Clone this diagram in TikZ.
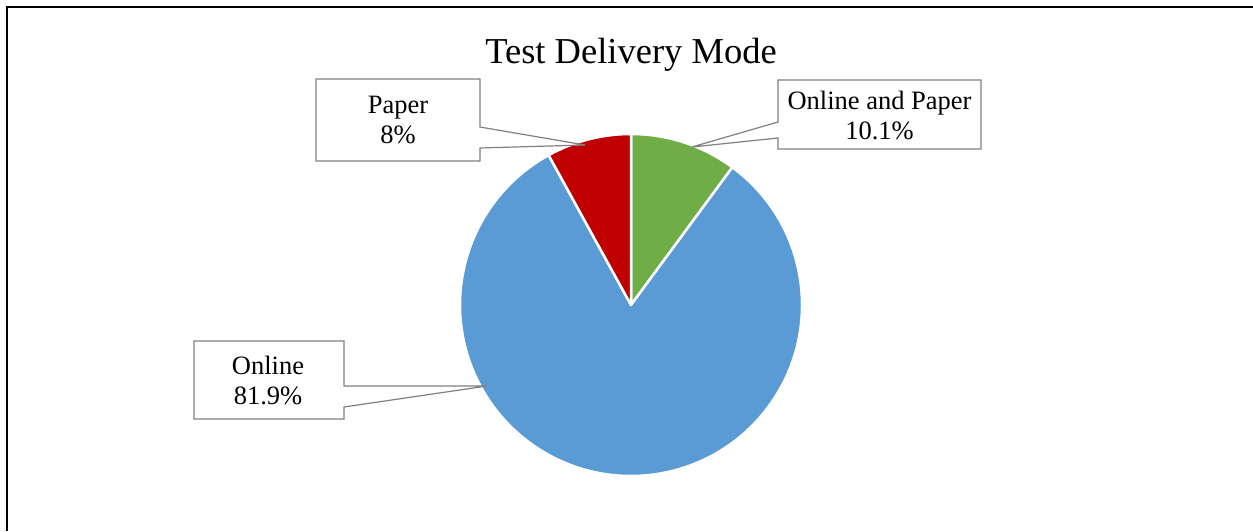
\documentclass[tikz,border=0pt]{standalone}
\usepackage{fontspec}
\setmainfont{Liberation Serif}
\definecolor{pieblue}{HTML}{5B9BD5}
\definecolor{piegreen}{HTML}{70AD47}
\definecolor{piered}{HTML}{C00000}
\definecolor{callgray}{RGB}{128,128,128}
\begin{document}
\begin{tikzpicture}[x=1pt,y=1pt,
  slice/.style={draw=white,line width=2.5pt,line join=round},
  callout/.style={draw=callgray,fill=white,line width=1.2pt},
  lbl/.style={align=center,inner sep=0pt,font=\fontsize{26.5}{30}\selectfont},
  frameline/.style={draw=black,line width=2pt}]
\useasboundingbox (0,0) rectangle (1253,531);
\fill[white] (0,0) rectangle (1253,531);
\draw[frameline] (6.5,0) -- (6.5,523.5) -- (1253,523.5);
\node[font=\fontsize{36.5}{40}\selectfont,anchor=base,inner sep=0pt] (title) at (631,467) {Test Delivery Mode};
\coordinate (c) at (631,226);
% slices
\path[slice,fill=piegreen] (c) -- ++(90:171) arc[start angle=90,end angle=53.64,radius=171] -- cycle;
\path[slice,fill=pieblue] (c) -- ++(53.64:171) arc[start angle=53.64,end angle=-241.2,radius=171] -- cycle;
\path[slice,fill=piered] (c) -- ++(118.8:171) arc[start angle=118.8,end angle=90,radius=171] -- cycle;
% callouts
\coordinate (tipP) at (585,386);
\coordinate (tipOP) at (692,384);
\coordinate (tipO) at (487,145);
\path[callout] (316,452) -- (480,452) -- (480,404) -- (tipP) -- (480,383) -- (480,370) -- (316,370) -- cycle;
\path[callout] (778,451) -- (981,451) -- (981,382) -- (778,382) -- (778,393) -- (tipOP) -- (778,409) -- cycle;
\path[callout] (194,190) -- (344,190) -- (344,145) -- (tipO) -- (344,124) -- (344,112) -- (194,112) -- cycle;
\node[lbl] (paper) at (398,411) {Paper\\8\%};
\node[lbl] (onpap) at (879.5,416) {Online and Paper\\10.1\%};
\node[lbl] (online) at (268,151) {Online\\81.9\%};
\end{tikzpicture}
\end{document}
